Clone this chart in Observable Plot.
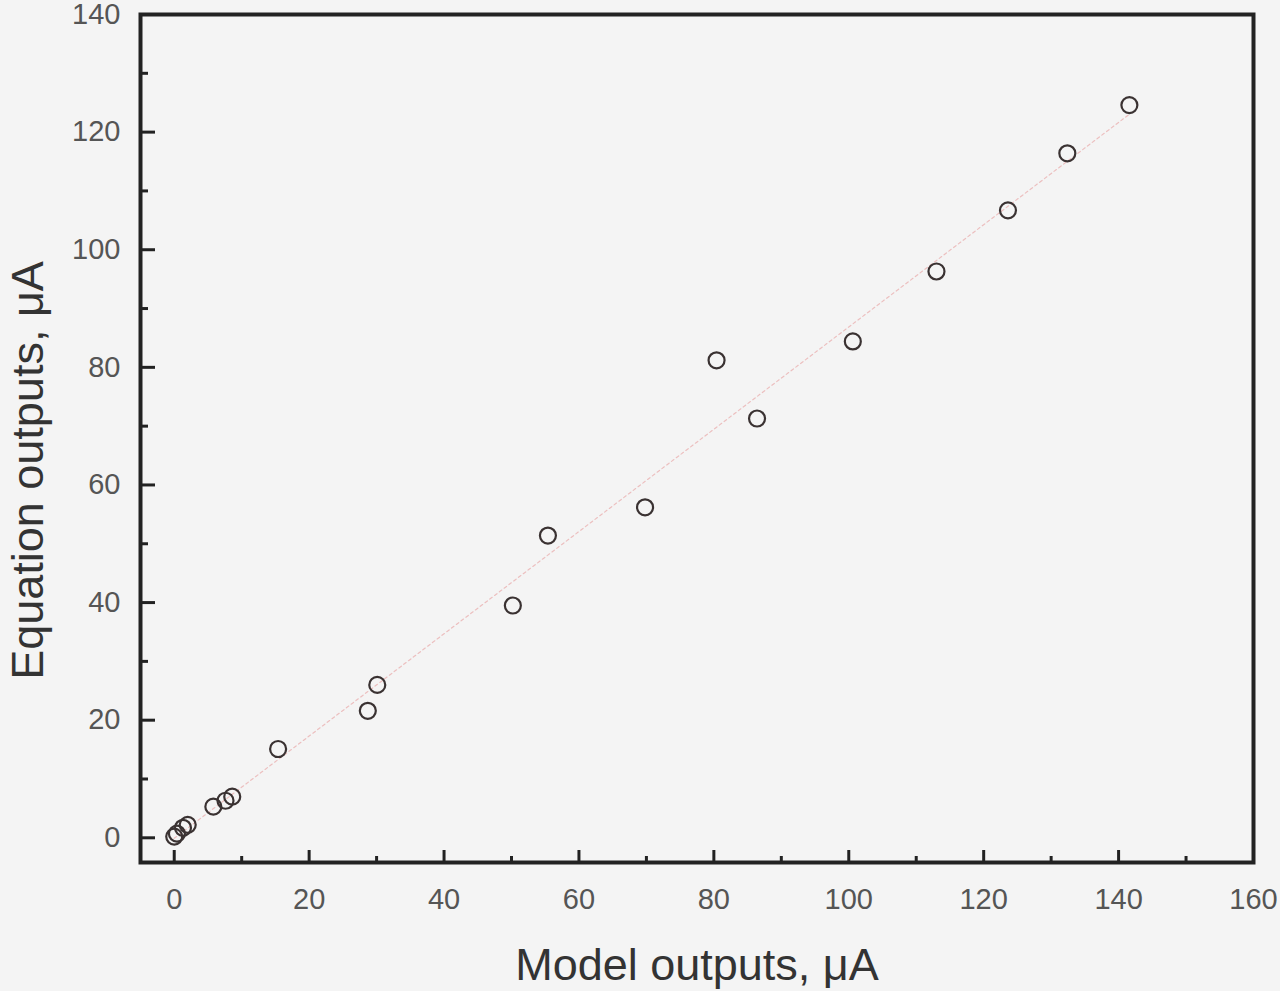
<!DOCTYPE html>
<html>
<head>
<meta charset="utf-8">
<script src="https://cdn.jsdelivr.net/npm/d3@7"></script>
<script src="https://cdn.jsdelivr.net/npm/@observablehq/plot@0.6"></script>
<style>
  html, body { margin: 0; padding: 0; background: #f4f4f4; }
  #chart svg { display: block; background: #f4f4f4; }
</style>
</head>
<body>
<div id="chart"></div>
<script>
// Data
const modelOutputs    = [0.0, 0.4, 1.3, 2.0, 5.8, 7.6, 8.6, 15.4, 28.7, 30.1, 50.2, 55.4, 69.8, 80.4, 86.4, 100.6, 113.0, 123.6, 132.4, 141.6];
const equationOutputs = [0.2, 0.7, 1.7, 2.2, 5.3, 6.3, 7.0, 15.1, 21.6, 26.0, 39.5, 51.4, 56.2, 81.2, 71.3, 84.4, 96.3, 106.7, 116.4, 124.6];
const xMajorTicks = [0, 20, 40, 60, 80, 100, 120, 140, 160];
const xMinorTicks = [10, 30, 50, 70, 90, 110, 130, 150];
const yMajorTicks = [0, 20, 40, 60, 80, 100, 120, 140];
const yMinorTicks = [10, 30, 50, 70, 90, 110, 130];
const xTitle = "Model outputs, μA";
const yTitle = "Equation outputs, μA";

const points = modelOutputs.map((m, i) => ({model: m, equation: equationOutputs[i]}));

const W = 1280, H = 991;
const mL = 140, mR = 27, mT = 14, mB = 129;
const plotW = W - mL - mR, plotH = H - mT - mB;
const font = "'Liberation Sans', Arial, sans-serif";

const chart = Plot.plot({
  width: W,
  height: H,
  marginLeft: mL,
  marginRight: mR,
  marginTop: mT,
  marginBottom: mB,
  style: {background: "#f4f4f4", fontFamily: font},
  x: {domain: [-5, 160], axis: null},
  y: {domain: [-4.2, 140], axis: null},
  marks: [
    // faint red fit line
    Plot.linearRegressionY(points, {x: "model", y: "equation", stroke: "#e07070", strokeWidth: 1.2, strokeOpacity: 0.4, strokeDasharray: "3,3", ci: 0}),
    // inward ticks
    Plot.ruleX(xMajorTicks, {x: d => d, stroke: "#222", strokeWidth: 3, insetTop: plotH - 12}),
    Plot.ruleX(xMinorTicks, {x: d => d, stroke: "#222", strokeWidth: 3, insetTop: plotH - 6}),
    Plot.ruleY(yMajorTicks, {y: d => d, stroke: "#222", strokeWidth: 3, insetRight: plotW - 15}),
    Plot.ruleY(yMinorTicks, {y: d => d, stroke: "#222", strokeWidth: 3, insetRight: plotW - 8}),
    // tick labels
    Plot.axisX(xMajorTicks, {tickSize: 0, tickPadding: 26, fontSize: 29, fill: "#555", fontFamily: font, label: null}),
    Plot.axisY(yMajorTicks, {tickSize: 0, tickPadding: 20, fontSize: 29, fill: "#555", fontFamily: font, label: null}),
    // points
    Plot.dot(points, {x: "model", y: "equation", r: 8, stroke: "#3a3232", strokeWidth: 2.2, fill: "none"}),
    // frame
    Plot.frame({stroke: "#222", strokeWidth: 4}),
    // axis titles
    Plot.text([xTitle], {frameAnchor: "bottom", textAnchor: "middle", dy: 117, fontSize: 45, fill: "#333", fontFamily: font, text: d => d}),
    Plot.text([yTitle], {frameAnchor: "left", textAnchor: "middle", rotate: -90, dx: -112, dy: 32, fontSize: 45, fill: "#333", fontFamily: font, text: d => d})
  ]
});
document.getElementById("chart").appendChild(chart);
</script>
</body>
</html>
